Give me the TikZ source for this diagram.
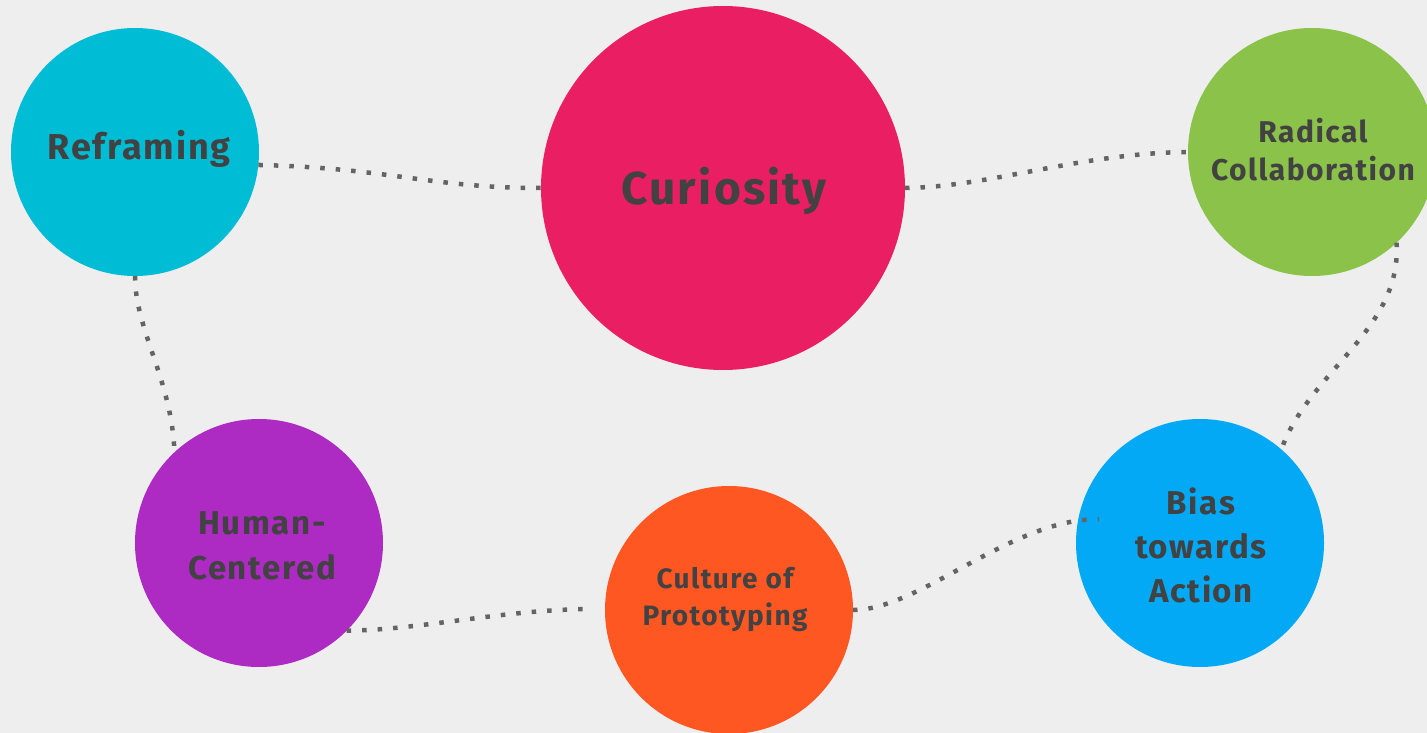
\documentclass[tikz,border=0pt]{standalone}
\usepackage{fontspec}
\setmainfont{Fira Sans}[LetterSpace=5]
\definecolor{bg}{HTML}{EEEEEE}
\definecolor{txt}{HTML}{424242}
\definecolor{dotc}{HTML}{646464}
\definecolor{cRef}{HTML}{00BCD4}
\definecolor{cCur}{HTML}{E91E63}
\definecolor{cRad}{HTML}{8BC34A}
\definecolor{cHum}{HTML}{AD2AC3}
\definecolor{cCul}{HTML}{FF5722}
\definecolor{cBia}{HTML}{03A9F4}
\begin{document}
\begin{tikzpicture}[x=1pt,y=-1pt,
  disc/.style={circle,inner sep=0pt,outer sep=0pt,minimum size=248pt,draw=none},
  lbl/.style={text=txt,align=center,inner sep=0pt,font=\bfseries},
  link/.style={draw=dotc,line width=4.5pt,dash pattern=on 4.5pt off 11pt}]
\useasboundingbox (0,0) rectangle (1427,733);
\clip (0,0) rectangle (1427,733);
\fill[bg] (0,0) rectangle (1427,733);
% circles
\node[disc,fill=cRef] (ref) at (135,152) {};
\node[disc,fill=cCur,minimum size=364pt] (cur) at (723,188) {};
\node[disc,fill=cRad] (rad) at (1312,152) {};
\node[disc,fill=cHum] (hum) at (259,543) {};
\node[disc,fill=cCul] (cul) at (729,610) {};
\node[disc,fill=cBia] (bia) at (1200,543) {};
% free ends
\coordinate (culL) at (589,609);
\coordinate (biaL) at (1099,519);
% connectors
\draw[link] (ref.-6) .. controls (390,168) and (430,188) .. (cur.180);
\draw[link] (cur.0) .. controls (990,187) and (1080,153) .. (rad.180);
\draw[link] (ref.-90) .. controls (135,330) and (172,380) .. (hum.133);
\draw[link] (rad.-47) .. controls (1402,330) and (1310,370) .. (bia.49);
\draw[link] (hum.-45) .. controls (420,630) and (500,610) .. (culL);
\draw[link] (cul.0) .. controls (920,610) and (1010,519) .. (biaL);
% labels
\node[lbl,font=\bfseries\fontsize{36}{40}\selectfont] (tRef) at (139,149) {Reframing};
\node[lbl,font=\bfseries\fontsize{46}{50}\selectfont] (tCur) at (724,191) {Curiosity};
\node[lbl,font=\bfseries\fontsize{30}{38}\selectfont] (tRad) at (1313,150) {Radical\\Collaboration};
\node[lbl,font=\bfseries\fontsize{33}{45}\selectfont] (tHum) at (262,546) {Human-\\Centered};
\node[lbl,font=\bfseries\fontsize{28}{37}\selectfont] (tCul) at (725,599) {Culture of\\Prototyping};
\node[lbl,font=\bfseries\fontsize{33}{44}\selectfont] (tBia) at (1201,545) {Bias\\towards\\Action};
\end{tikzpicture}
\end{document}
